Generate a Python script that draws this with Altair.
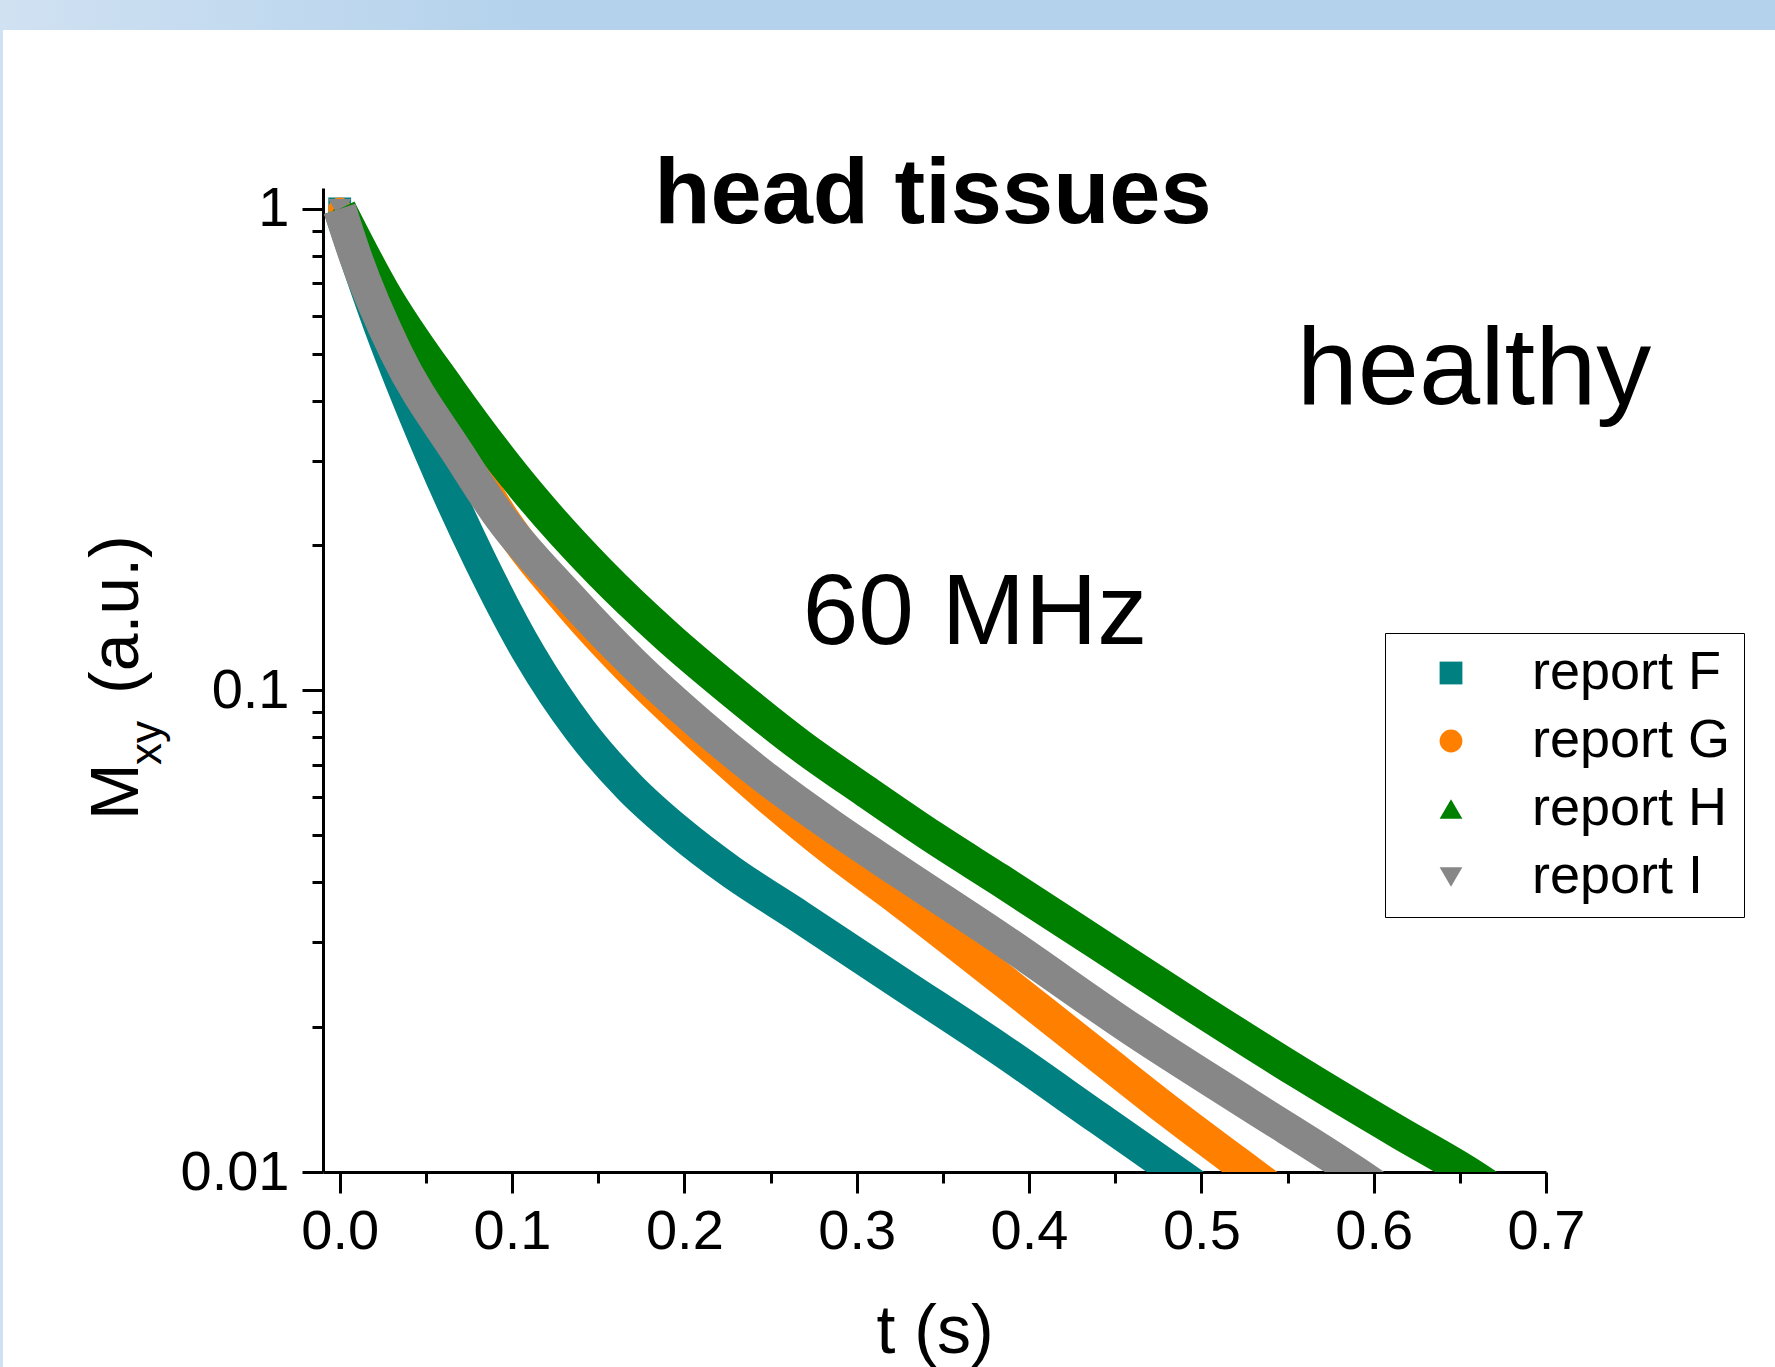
import altair as alt
import pandas as pd

FONT = "Liberation Sans"

# ---------------- data ----------------
series_names = ["report F", "report G", "report H", "report I"]
series_colors = ["#008080", "#ff8000", "#008000", "#878787"]
series_shapes = ["square", "circle", "triangle-up", "triangle-down"]

t_F = [0.0, 0.0232, 0.0522, 0.0813, 0.1103, 0.1393, 0.1683, 0.1973, 0.2264, 0.2670,
       0.3250, 0.3831, 0.4411, 0.4875, 0.508]
v_F = [1.0, 0.574, 0.3158, 0.1866, 0.1185, 0.0828, 0.0629, 0.0507, 0.0422, 0.0339,
       0.0247, 0.0180, 0.01288, 0.00986, 0.00875]

t_G = [0.0, 0.0104, 0.0342, 0.0720, 0.0952, 0.1341, 0.1712, 0.2089, 0.2478, 0.2861,
       0.3250, 0.3831, 0.4411, 0.4817, 0.5281, 0.5485]
v_G = [1.0, 0.8025, 0.5000, 0.3083, 0.2259, 0.1505, 0.1082, 0.0804, 0.0604, 0.0466,
       0.0367, 0.02528, 0.01733, 0.01332, 0.0100, 0.00883]

t_H = [0.0, 0.0250, 0.0638, 0.1103, 0.1509, 0.1898, 0.2281, 0.2670, 0.3059, 0.3442,
       0.3831, 0.4411, 0.4991, 0.5572, 0.6152, 0.6541, 0.6761]
v_H = [1.0, 0.6765, 0.4207, 0.2547, 0.1762, 0.1298, 0.0993, 0.0770, 0.0615, 0.0496,
       0.0404, 0.0296, 0.0217, 0.01605, 0.01205, 0.0100, 0.00887]

t_I = [0.0, 0.0087, 0.0325, 0.0696, 0.0929, 0.1317, 0.1701, 0.2089, 0.2478, 0.2861,
       0.3250, 0.3831, 0.4602, 0.5281, 0.5891, 0.6094]
v_I = [1.0, 0.804, 0.5047, 0.3069, 0.2293, 0.1586, 0.1140, 0.0852, 0.0655, 0.0521,
       0.0420, 0.0306, 0.01972, 0.01377, 0.0100, 0.00892]

x_major_ticks = [0.0, 0.1, 0.2, 0.3, 0.4, 0.5, 0.6, 0.7]
x_minor_ticks = [0.05, 0.15, 0.25, 0.35, 0.45, 0.55, 0.65]
y_major_ticks = [0.01, 0.1, 1.0]
y_minor_ticks = [0.02, 0.03, 0.04, 0.05, 0.06, 0.07, 0.08, 0.09,
                 0.2, 0.3, 0.4, 0.5, 0.6, 0.7, 0.8, 0.9]

# ---------------- table ----------------
frames = []
for name, ts, vs in zip(series_names, [t_F, t_G, t_H, t_I], [v_F, v_G, v_H, v_I]):
    frames.append(pd.DataFrame({"series": name, "t": ts, "v": vs}))
df = pd.concat(frames, ignore_index=True)

x_scale = alt.Scale(domain=[-0.0097, 0.7], nice=False, zero=False)
y_scale = alt.Scale(type="log", domain=[0.01, 1.105], nice=False)

x_major = alt.Axis(orient="bottom", values=x_major_ticks, format=".1f", tickSize=21, tickWidth=3,
                   domainWidth=3, domainColor="black", tickColor="black", labelColor="black",
                   labelFont=FONT, labelFontSize=56, labelPadding=11, labelFlush=False,
                   labelOverlap=False, grid=False, title="t (s)", titleFont=FONT,
                   titleFontSize=68, titleFontWeight="normal", titleColor="black",
                   titleY=180, titleBaseline="alphabetic")
y_major = alt.Axis(orient="left", values=y_major_ticks, format="~g", tickSize=21, tickWidth=3,
                   domainWidth=3, domainColor="black", tickColor="black", labelColor="black",
                   labelFont=FONT, labelFontSize=56, labelPadding=13, labelFlush=False,
                   labelOverlap=False, grid=False, title=None)
x_minor = alt.Axis(orient="bottom", values=x_minor_ticks, labels=False, domain=False,
                   tickSize=11, tickWidth=3, tickColor="black", grid=False, title=None)
y_minor = alt.Axis(orient="left", values=y_minor_ticks, labels=False, domain=False,
                   tickSize=11, tickWidth=3, tickColor="black", grid=False, title=None)

legend = alt.Legend(title=None, orient="none", legendX=1062, legendY=445, padding=13,
                    strokeColor="black", fillColor="white", labelFont=FONT, labelFontSize=54,
                    labelColor="black", labelOffset=54, symbolOffset=26, symbolSize=520,
                    rowPadding=14, labelLimit=500)

points = alt.Chart(df).mark_point(filled=True, size=520, opacity=1, clip=True).encode(
    x=alt.X("t:Q", scale=x_scale, axis=x_minor),
    y=alt.Y("v:Q", scale=y_scale, axis=y_minor),
    color=alt.Color("series:N", scale=alt.Scale(domain=series_names, range=series_colors),
                    legend=legend),
    shape=alt.Shape("series:N", scale=alt.Scale(domain=series_names, range=series_shapes),
                    legend=legend),
)


def band(i, with_axes):
    return alt.Chart(df).transform_filter(
        alt.datum.series == series_names[i]
    ).mark_line(color=series_colors[i], strokeWidth=33, interpolate="monotone",
                clip=True, strokeJoin="round").encode(
        x=alt.X("t:Q", scale=x_scale, axis=x_major if with_axes else None),
        y=alt.Y("v:Q", scale=y_scale, axis=y_major if with_axes else None),
    )


one = alt.Data(values=[{}])


def label(text, x, y, size, weight="normal", angle=0, align="center"):
    return alt.Chart(one).mark_text(
        text=text, font=FONT, fontSize=size, fontWeight=weight, angle=angle,
        align=align, baseline="alphabetic", color="black"
    ).encode(x=alt.value(x), y=alt.value(y))


top_band = alt.Chart(one).mark_rect(
    color=alt.LinearGradient(
        gradient="linear", x1=0, x2=1, y1=0, y2=0,
        stops=[alt.GradientStop(offset=0, color="#d0e1f2"),
               alt.GradientStop(offset=0.3, color="#b4d2ec"),
               alt.GradientStop(offset=1, color="#b4d2ec")])
).encode(x=alt.value(-323), x2=alt.value(1452), y=alt.value(-188), y2=alt.value(-158))

left_strip = alt.Chart(one).mark_rect(color="#cfe1f2").encode(
    x=alt.value(-323), x2=alt.value(-320), y=alt.value(-158), y2=alt.value(1179))

layers = [top_band, left_strip, points,
          band(0, True), band(1, False), band(2, False), band(3, False),
          label("head tissues", 610, 35, 92, weight="bold"),
          label("healthy", 1151, 216, 110),
          label("60 MHz", 652, 456, 100),
          label("M", -185, 632, 68, angle=270, align="left"),
          label("xy", -162, 577, 44, angle=270, align="left"),
          label("(a.u.)", -185, 506, 68, angle=270, align="left")]

chart = alt.layer(*layers).resolve_axis(x="independent", y="independent").properties(
    width=1223, height=984,
    autosize=alt.AutoSizeParams(type="none"),
    padding={"left": 323, "top": 188, "right": 229, "bottom": 195},
    background="white",
).configure_view(strokeWidth=0)

chart.save("out.html", embed_options={"renderer": "svg", "actions": False})
